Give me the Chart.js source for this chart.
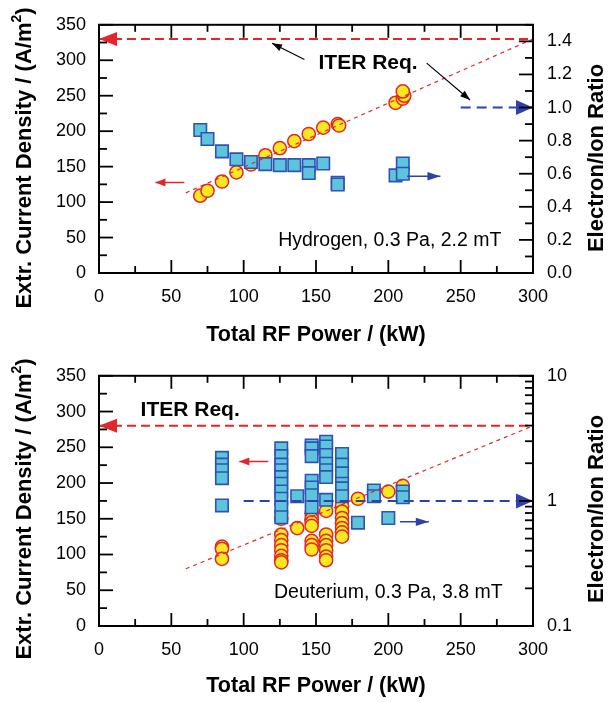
<!DOCTYPE html>
<html><head><meta charset="utf-8">
<script src="https://cdn.jsdelivr.net/npm/chart.js@4/dist/chart.umd.min.js"></script>
<style>
html,body{margin:0;padding:0;background:#fff;}
canvas{display:block;}
</style></head>
<body>
<canvas id="c1" width="614" height="351"></canvas>
<canvas id="c2" width="614" height="351"></canvas>
<script>
// ---------------- DATA ----------------
const powerTicks   = [0, 50, 100, 150, 200, 250, 300];
const densityTicks = [0, 50, 100, 150, 200, 250, 300, 350];
const ratioTicksH  = [0, 0.2, 0.4, 0.6, 0.8, 1.0, 1.2, 1.4];
const ratioTicksD  = [0.1, 1, 10];

// Hydrogen: extracted current density (left axis)
const hPowerJ  = [70, 75, 85, 95, 105, 115, 125, 135, 145, 155, 165, 166, 205, 210, 211, 210];
const hDensity = [109, 116, 129, 142, 153, 166, 176, 186, 196, 205, 210, 208, 240, 246, 250, 256];
// Hydrogen: electron/ion ratio (right axis)
const hPowerR  = [70, 75, 85, 95, 105, 115, 125, 135, 145, 145, 155, 165, 165, 205, 210, 210];
const hRatio   = [0.864, 0.81, 0.735, 0.687, 0.671, 0.658, 0.652, 0.652, 0.652, 0.604, 0.662, 0.546, 0.535, 0.59, 0.662, 0.60];

// Deuterium: extracted current density (left axis)
const dPowerJ  = [85, 85, 85,
                  126, 126, 126, 126, 126, 126, 126, 126,
                  137,
                  147, 147, 147, 147, 147, 147, 147,
                  157, 157, 157, 157, 157, 157, 157,
                  168, 168, 168, 168, 168, 168, 168,
                  179, 200, 210];
const dDensity = [111, 108, 94,
                  150, 128, 120, 113, 106, 98, 92, 89,
                  137,
                  157, 150, 145, 140, 119, 113, 107,
                  161, 128, 119, 113, 106, 97, 92,
                  168, 160, 151, 144, 137, 131, 125,
                  178, 188, 196];
// Deuterium: electron/ion ratio (right, log axis)
const dPowerR  = [85, 85, 85, 85, 85,
                  126, 126, 126, 126, 126, 126, 126, 126, 126, 126,
                  137,
                  147, 147, 147, 147, 147, 147, 147,
                  157, 157, 157, 157, 157, 157, 157,
                  168, 168, 168, 168, 168, 168,
                  179, 190, 190, 200, 210, 210];
const dRatio   = [2.21, 1.95, 1.76, 1.52, 0.92,
                  2.63, 2.28, 1.95, 1.76, 1.55, 1.37, 1.19, 1.04, 0.89, 0.74,
                  1.09,
                  2.77, 2.63, 2.28, 1.45, 1.28, 1.11, 0.89,
                  2.97, 2.72, 2.33, 1.98, 1.76, 1.55, 1.02,
                  2.37, 1.95, 1.66, 1.37, 1.26, 1.09,
                  0.67, 1.21, 1.09, 0.73, 1.19, 1.07];

// ITER requirements and guide lines
const hIterDensity = 330, hIterRatio = 1.0, hIterRatioFrom = 250;
const dIterDensity = 280, dIterRatio = 1.0, dIterRatioFrom = 100;
const hTrendPower = [60, 300], hTrendDensity = [113, 330];
const dTrendPower = [60, 300], dTrendDensity = [80, 280];

// small axis-pointer arrows: [tailX, tipX, value]
const hLeftArrow  = [59, 39, 127.5];
const hRightArrow = [213, 236, 0.585];
const dLeftArrow  = [117, 97, 230];
const dRightArrow = [208, 228, 0.68];
// black annotation arrows (top chart): [x0, y0, x1(tip), y1(tip)] in power / density
const hNoteArrows = [[142, 301, 119.6, 324], [226.5, 296, 256.5, 244]];

// ---------------- STYLE ----------------
const FONT = '"Liberation Sans", Arial, Helvetica, sans-serif';
const RED = '#e3262b', BLUE = '#2d43a9', YEL = '#fae81e', CYAN = '#5ec4dc', SQB = '#2f52b4';

const pts = (xs, ys) => xs.map((x, i) => ({x: x, y: ys[i]}));

function circles(xs, ys) {
  return {type: 'scatter', data: pts(xs, ys), yAxisID: 'y', order: 3,
    pointStyle: 'circle', pointRadius: 6.6, pointBackgroundColor: YEL,
    pointBorderColor: RED, pointBorderWidth: 1.5};
}
function squares(xs, ys) {
  return {type: 'scatter', data: pts(xs, ys), yAxisID: 'y2', order: 2,
    pointStyle: 'rect', pointRadius: 8.8, pointBackgroundColor: CYAN,
    pointBorderColor: SQB, pointBorderWidth: 1.6};
}
function line(xs, ys, axis, color, width, dash) {
  return {type: 'scatter', data: pts(xs, ys), yAxisID: axis, order: 1, showLine: true,
    borderColor: color, borderWidth: width, borderDash: dash, pointRadius: 0, fill: false};
}

function arrowHead(ctx, tx, ty, fx, fy, len, half, color) {
  const a = Math.atan2(ty - fy, tx - fx);
  ctx.save();
  ctx.translate(tx, ty); ctx.rotate(a);
  ctx.beginPath(); ctx.moveTo(0, 0); ctx.lineTo(-len, -half); ctx.lineTo(-len, half); ctx.closePath();
  ctx.fillStyle = color; ctx.fill();
  ctx.restore();
}

function richRotated(ctx, cx, cy, parts) {
  ctx.save();
  ctx.translate(cx, cy); ctx.rotate(-Math.PI / 2);
  ctx.textBaseline = 'middle'; ctx.textAlign = 'left'; ctx.fillStyle = '#000';
  let total = 0;
  parts.forEach(p => { ctx.font = 'bold ' + p.s + 'px ' + FONT; p.w = ctx.measureText(p.t).width; total += p.w; });
  let x = -total / 2;
  parts.forEach(p => { ctx.font = 'bold ' + p.s + 'px ' + FONT; ctx.fillText(p.t, x, p.dy || 0); x += p.w; });
  ctx.restore();
}

function makeDeco(cfg) {
  return {
    id: 'deco_' + cfg.name,
    afterDatasetsDraw(chart) {
      const ctx = chart.ctx, s = chart.scales, a = chart.chartArea;
      // big ITER arrowheads
      const yr = s.y.getPixelForValue(cfg.iterDensity);
      arrowHead(ctx, a.left, yr, a.left + 30, yr, 18, 7, RED);
      const yb = s.y2.getPixelForValue(cfg.iterRatio);
      arrowHead(ctx, a.right, yb, a.right - 30, yb, 17, 7.5, BLUE);
      // small arrows
      const la = cfg.leftArrow, ra = cfg.rightArrow;
      const ly = s.y.getPixelForValue(la[2]);
      arrowHead(ctx, s.x.getPixelForValue(la[1]), ly, s.x.getPixelForValue(la[0]), ly, 10, 4, RED);
      const ry = s.y2.getPixelForValue(ra[2]);
      arrowHead(ctx, s.x.getPixelForValue(ra[1]), ry, s.x.getPixelForValue(ra[0]), ry, 13, 4.2, BLUE);
      // black note arrows
      (cfg.notes || []).forEach(n => {
        const x0 = s.x.getPixelForValue(n[0]), y0 = s.y.getPixelForValue(n[1]);
        const x1 = s.x.getPixelForValue(n[2]), y1 = s.y.getPixelForValue(n[3]);
        ctx.save(); ctx.strokeStyle = '#000'; ctx.lineWidth = 1.2;
        ctx.beginPath(); ctx.moveTo(x0, y0); ctx.lineTo(x1, y1); ctx.stroke(); ctx.restore();
        arrowHead(ctx, x1, y1, x0, y0, 10, 3.6, '#000');
      });
      // texts
      ctx.save();
      ctx.fillStyle = '#000'; ctx.textAlign = 'center'; ctx.textBaseline = 'middle';
      ctx.font = 'bold 21px ' + FONT;
      ctx.fillText('ITER Req.', s.x.getPixelForValue(cfg.iterText[0]), s.y.getPixelForValue(cfg.iterText[1]));
      ctx.font = '19.5px ' + FONT;
      ctx.fillText(cfg.gasText, s.x.getPixelForValue(cfg.gasPos[0]), s.y.getPixelForValue(cfg.gasPos[1]));
      ctx.restore();
    },
    afterDraw(chart) {
      const ctx = chart.ctx, s = chart.scales, a = chart.chartArea;
      ctx.save();
      ctx.strokeStyle = '#000';
      ctx.lineWidth = 2;
      ctx.strokeRect(a.left, a.top, a.right - a.left, a.bottom - a.top);
      ctx.lineWidth = 1.8;
      const seg = (x0, y0, x1, y1) => { ctx.beginPath(); ctx.moveTo(x0, y0); ctx.lineTo(x1, y1); ctx.stroke(); };
      for (let v = 0; v <= 300; v += 25) {
        const px = s.x.getPixelForValue(v), len = v % 50 === 0 ? 13 : 7;
        seg(px, a.bottom, px, a.bottom - len); seg(px, a.top, px, a.top + len);
      }
      for (let v = 0; v <= 350; v += 25) {
        const py = s.y.getPixelForValue(v), len = v % 50 === 0 ? 14 : 8;
        seg(a.left, py, a.left + len, py);
      }
      cfg.rightTicks.forEach(t => {
        const py = s.y2.getPixelForValue(t[0]), len = t[1] ? 14 : 8;
        seg(a.right, py, a.right - len, py);
      });
      ctx.restore();
      // axis titles
      ctx.save();
      ctx.fillStyle = '#000'; ctx.textAlign = 'center'; ctx.textBaseline = 'middle';
      ctx.font = 'bold 21.5px ' + FONT;
      ctx.fillText('Total RF Power / (kW)', (a.left + a.right) / 2, 335);
      ctx.restore();
      richRotated(ctx, 25, 158, [
        {t: 'Extr. Current Density / (A/m', s: 22},
        {t: '2', s: 14, dy: -8},
        {t: ')', s: 22}]);
      richRotated(ctx, 597, 158, [{t: 'Electron/Ion Ratio', s: 22}]);
    }
  };
}

const tickFont = {family: FONT, size: 18};
function baseScales(xHeight, y2) {
  return {
    x: {type: 'linear', min: 0, max: 300,
      afterBuildTicks: sc => { sc.ticks = powerTicks.map(v => ({value: v})); },
      ticks: {font: tickFont, color: '#000', padding: 13, maxRotation: 0, autoSkip: false},
      grid: {display: false, drawTicks: false}, border: {display: false},
      afterFit: sc => { sc.height = xHeight; }},
    y: {type: 'linear', position: 'left', min: 0, max: 350,
      afterBuildTicks: sc => { sc.ticks = densityTicks.map(v => ({value: v})); },
      ticks: {font: tickFont, color: '#000', padding: 13, autoSkip: false},
      grid: {display: false, drawTicks: false}, border: {display: false},
      afterFit: sc => { sc.width = 99; }},
    y2: Object.assign({position: 'right',
      ticks: Object.assign({font: tickFont, color: '#000', padding: 14, autoSkip: false}, y2.ticks),
      grid: {display: false, drawTicks: false}, border: {display: false},
      afterFit: sc => { sc.width = 81; }}, y2.opts)
  };
}
const commonOpts = {responsive: false, animation: false, devicePixelRatio: 1,
  layout: {padding: {top: 13, left: 0, right: 0, bottom: 0}},
  plugins: {legend: {display: false}, tooltip: {enabled: false}}};

// right tick marks
const rightTicksH = [];
for (let i = 0; i <= 15; i++) rightTicksH.push([i / 10, i % 2 === 0]);
const rightTicksD = [];
[0.1, 1].forEach(d => { for (let k = 1; k <= 9; k++) rightTicksD.push([k * d, k === 1]); });
rightTicksD.push([10, true]);

// ---------------- TOP CHART: Hydrogen ----------------
new Chart(document.getElementById('c1'), {
  type: 'scatter',
  data: {datasets: [
    line(hTrendPower, hTrendDensity, 'y', RED, 1.2, [4, 4]),
    line([0, 300], [hIterDensity, hIterDensity], 'y', RED, 2, [9, 5]),
    line([hIterRatioFrom, 300], [hIterRatio, hIterRatio], 'y2', BLUE, 2, [10, 6]),
    line([hLeftArrow[0], hLeftArrow[1]], [hLeftArrow[2], hLeftArrow[2]], 'y', RED, 1.5, []),
    line([hRightArrow[0], hRightArrow[1]], [hRightArrow[2], hRightArrow[2]], 'y2', BLUE, 1.5, []),
    squares(hPowerR, hRatio),
    circles(hPowerJ, hDensity)
  ]},
  options: Object.assign({}, commonOpts, {
    scales: baseScales(78, {
      opts: {type: 'linear', min: 0, max: 1.5,
        afterBuildTicks: sc => { sc.ticks = ratioTicksH.map(v => ({value: v})); }},
      ticks: {callback: v => Number(v).toFixed(1)}
    })
  }),
  plugins: [makeDeco({name: 'h', iterDensity: hIterDensity, iterRatio: hIterRatio,
    leftArrow: hLeftArrow, rightArrow: hRightArrow, notes: hNoteArrows,
    iterText: [186, 296], gasText: 'Hydrogen, 0.3 Pa, 2.2 mT', gasPos: [201, 45.5],
    rightTicks: rightTicksH})]
});

// ---------------- BOTTOM CHART: Deuterium ----------------
new Chart(document.getElementById('c2'), {
  type: 'scatter',
  data: {datasets: [
    line(dTrendPower, dTrendDensity, 'y', RED, 1.2, [4, 4]),
    line([0, 300], [dIterDensity, dIterDensity], 'y', RED, 2, [9, 5]),
    line([dIterRatioFrom, 300], [dIterRatio, dIterRatio], 'y2', BLUE, 2, [10, 6]),
    line([dLeftArrow[0], dLeftArrow[1]], [dLeftArrow[2], dLeftArrow[2]], 'y', RED, 1.5, []),
    line([dRightArrow[0], dRightArrow[1]], [dRightArrow[2], dRightArrow[2]], 'y2', BLUE, 1.5, []),
    squares(dPowerR, dRatio),
    circles(dPowerJ, dDensity)
  ]},
  options: Object.assign({}, commonOpts, {
    scales: baseScales(76, {
      opts: {type: 'logarithmic', min: 0.1, max: 10,
        afterBuildTicks: sc => { sc.ticks = ratioTicksD.map(v => ({value: v})); }},
      ticks: {callback: v => String(v)}
    })
  }),
  plugins: [makeDeco({name: 'd', iterDensity: dIterDensity, iterRatio: dIterRatio,
    leftArrow: dLeftArrow, rightArrow: dRightArrow, notes: [],
    iterText: [63, 302], gasText: 'Deuterium, 0.3 Pa, 3.8 mT', gasPos: [200, 47],
    rightTicks: rightTicksD})]
});
</script>
</body></html>
